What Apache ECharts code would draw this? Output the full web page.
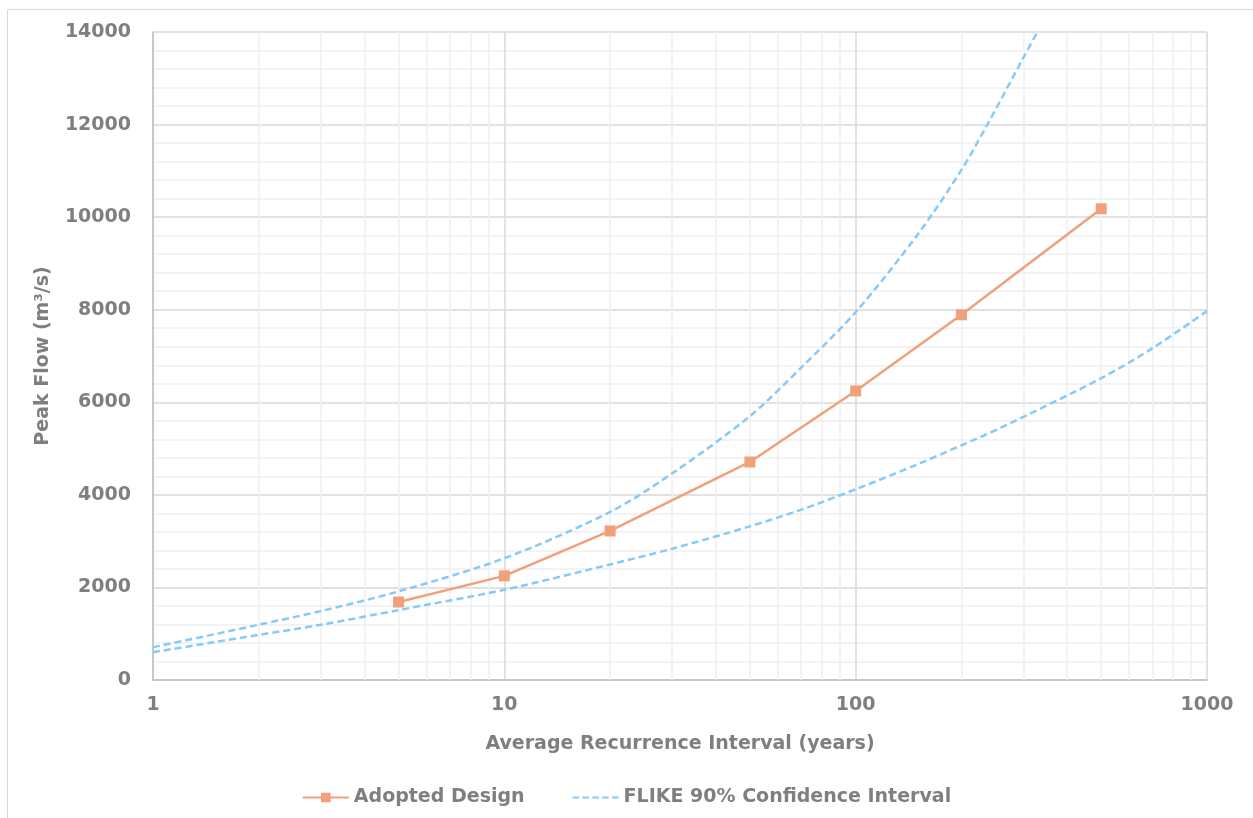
<!DOCTYPE html>
<html>
<head>
<meta charset="utf-8">
<title>Peak Flow vs Average Recurrence Interval</title>
<script src="https://cdn.jsdelivr.net/npm/echarts@6/dist/echarts.min.js"></script>
<style>
  html, body { margin: 0; padding: 0; background: #fff; }
  #chart { width: 1253px; height: 818px; }
</style>
</head>
<body>
<div id="chart"></div>
<script>
// Adopted design quantiles (ARI in years, peak flow in m3/s)
const designAri = [5, 10, 20, 50, 100, 200, 500];
const designFlow = [1685, 2250, 3220, 4710, 6245, 7890, 10180];

// FLIKE 90% confidence limits
const upperAri = [1, 1.5, 2, 3, 5, 10, 20, 30, 50, 70, 100, 150, 200, 237, 300, 329];
const upperFlow = [710, 990, 1195, 1488, 1915, 2630, 3630, 4460, 5700, 6750, 7950, 9620, 11020, 12000, 13440, 14000];
const lowerAri = [1, 1.5, 2, 3, 5, 10, 20, 30, 50, 70, 100, 150, 200, 258, 500, 700, 1000];
const lowerFlow = [600, 820, 975, 1193, 1510, 1950, 2497, 2836, 3320, 3680, 4120, 4660, 5070, 5445, 6520, 7170, 7970];

// minor (2..9 per decade) vertical gridlines
const minorX = [2, 3, 4, 5, 6, 7, 8, 9, 20, 30, 40, 50, 60, 70, 80, 90, 200, 300, 400, 500, 600, 700, 800, 900];

const GRAY_TEXT = "#7f7f7f";
const ORANGE = "#f0a07a";
const BLUE = "#86c9fb";
const FONT = "'DejaVu Sans', sans-serif";
const DASH_ICON = "path://M0,0h6v2h-6z M9,0h6v2h-6z M18,0h6v2h-6z M27,0h6v2h-6z M36,0h6v2h-6z";

const zip = (xs, ys) => xs.map((x, i) => [x, ys[i]]);
const plain = (v) => String(v);

const chart = echarts.init(document.getElementById("chart"));

chart.setOption({
  animation: false,
  textStyle: { fontFamily: FONT },
  graphic: [
    {
      type: "rect",
      shape: { x: 7.5, y: 9.5, width: 1300, height: 900 },
      style: { fill: "none", stroke: "#d9d9d9", lineWidth: 1 },
      silent: true,
      z: -10,
    },
  ],
  grid: { left: 153, right: 46, top: 32, bottom: 138 },
  legend: {
    bottom: 6,
    left: "center",
    itemGap: 48,
    itemWidth: 46,
    itemHeight: 12,
    symbolKeepAspect: true,
    textStyle: { color: GRAY_TEXT, fontSize: 19, fontWeight: "bold", fontFamily: FONT },
    data: [
      { name: "Adopted Design" },
      { name: "FLIKE 90% Confidence Interval", icon: DASH_ICON, itemStyle: { color: BLUE } },
    ],
  },
  xAxis: {
    type: "log",
    logBase: 10,
    min: 1,
    max: 1000,
    name: "Average Recurrence Interval (years)",
    nameLocation: "middle",
    nameGap: 55,
    nameTextStyle: { color: GRAY_TEXT, fontSize: 19, fontWeight: "bold", fontFamily: FONT },
    axisLine: { lineStyle: { color: "#bfbfbf", width: 1.5 } },
    axisTick: { show: false },
    axisLabel: { color: GRAY_TEXT, fontSize: 19, fontWeight: "bold", margin: 16, fontFamily: FONT, formatter: plain },
    splitLine: { show: true, lineStyle: { color: "#d9d9d9", width: 1.5 } },
  },
  yAxis: {
    type: "value",
    min: 0,
    max: 14000,
    interval: 2000,
    name: "Peak Flow (m³/s)",
    nameLocation: "middle",
    nameGap: 100,
    nameTextStyle: { color: GRAY_TEXT, fontSize: 19, fontWeight: "bold", fontFamily: FONT },
    axisLine: { show: true, lineStyle: { color: "#bfbfbf", width: 1.5 } },
    axisTick: { show: false },
    axisLabel: { color: GRAY_TEXT, fontSize: 19, fontWeight: "bold", margin: 22, fontFamily: FONT, formatter: plain },
    splitLine: { show: true, lineStyle: { color: "#d9d9d9", width: 1.5 } },
    minorTick: { show: false, splitNumber: 5 },
    minorSplitLine: { show: true, lineStyle: { color: "#efefef", width: 1.5 } },
  },
  series: [
    {
      name: "minor-x",
      type: "line",
      data: [],
      silent: true,
      z: 1,
      markLine: {
        silent: true,
        z: 1,
        symbol: "none",
        label: { show: false },
        animation: false,
        lineStyle: { color: "#efefef", width: 1.5, type: "solid" },
        data: minorX.map((v) => ({ xAxis: v })),
      },
    },
    {
      name: "FLIKE 90% Confidence Interval",
      type: "line",
      data: zip(upperAri, upperFlow),
      smooth: 0.3,
      showSymbol: false,
      symbol: "none",
      z: 3,
      lineStyle: { color: BLUE, width: 2.5, type: [7, 4] },
      itemStyle: { color: BLUE },
    },
    {
      name: "FLIKE 90% Confidence Interval",
      type: "line",
      data: zip(lowerAri, lowerFlow),
      smooth: 0.3,
      showSymbol: false,
      symbol: "none",
      z: 3,
      lineStyle: { color: BLUE, width: 2.5, type: [7, 4] },
      itemStyle: { color: BLUE },
    },
    {
      name: "Adopted Design",
      type: "line",
      data: zip(designAri, designFlow),
      symbol: "rect",
      symbolSize: 11,
      z: 4,
      lineStyle: { color: ORANGE, width: 2.5 },
      itemStyle: { color: ORANGE },
    },
  ],
});
</script>
</body>
</html>
